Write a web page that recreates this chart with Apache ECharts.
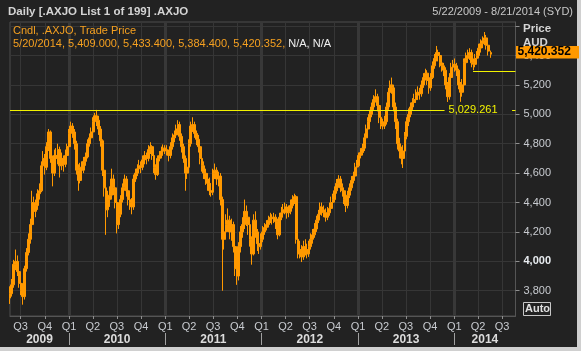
<!DOCTYPE html>
<html><head><meta charset="utf-8">
<script src="https://cdn.jsdelivr.net/npm/echarts@6/dist/echarts.min.js"></script>
<style>html,body{margin:0;padding:0;background:#222;} #c{width:581px;height:351px;}</style>
</head><body><div id="c"></div>
<script>
// Weekly candles [open, close, low, high], first week starting 2009-05-22
const candlesA = [
[3750,3780,3710,3830],[3780,3840,3760,3880],[3840,3980,3820,4010],[3980,4000,3940,4080],[4000,3930,3900,4040],
[3930,3850,3820,3960],[3850,3800,3770,3890],[3800,3760,3705,3830],[3760,3950,3740,3970],[3950,4060,3930,4090],
[4060,4150,4040,4190],[4150,4250,4120,4290],[4250,4400,4230,4480],[4400,4340,4290,4440],[4340,4380,4300,4420],
[4380,4460,4350,4490],[4460,4480,4420,4530],[4480,4650,4470,4680],[4650,4700,4610,4750],[4700,4640,4590,4730],
[4640,4780,4620,4810],[4780,4880,4750,4900],[4880,4700,4670,4890],[4700,4600,4510,4720],[4600,4720,4580,4760],
[4720,4700,4640,4770],[4700,4760,4660,4800],[4760,4650,4570,4780],[4650,4700,4620,4740],[4700,4660,4610,4720],
[4660,4720,4640,4760],[4720,4780,4700,4800]
];
const candlesB = [
[4780,4870,4760,4900],[4870,4920,4850,4950],[4920,4880,4840,4940],[4880,4800,4760,4900],[4800,4620,4590,4820],
[4620,4550,4480,4660],[4550,4640,4530,4670],[4640,4620,4580,4680],[4620,4680,4600,4710],[4680,4710,4650,4740],
[4710,4800,4700,4830],[4800,4840,4780,4870],[4840,4880,4820,4910],[4880,4950,4860,4980],[4950,4990,4930,5010],
[4990,4960,4920,5030],[4960,4900,4860,4990],[4900,4820,4780,4920],[4820,4620,4580,4830],[4620,4500,4440,4660],
[4500,4350,4180,4520],[4350,4420,4300,4480],[4420,4450,4370,4510],[4450,4560,4420,4630],[4560,4500,4450,4590],
[4500,4400,4360,4530],[4400,4250,4190,4420],[4250,4320,4220,4360],[4320,4420,4300,4450],[4420,4500,4400,4530],
[4500,4560,4480,4590],[4560,4480,4440,4580],[4480,4420,4380,4510],[4420,4400,4350,4450],[4400,4370,4320,4430],
[4370,4560,4350,4590],[4560,4600,4540,4630],[4600,4630,4580,4660],[4630,4650,4600,4690],[4650,4640,4600,4680],
[4640,4690,4620,4720],[4690,4720,4660,4750],[4720,4700,4660,4740],[4700,4760,4680,4790],[4760,4780,4730,4810],
[4780,4720,4690,4790],[4720,4640,4600,4730],[4640,4590,4555,4660],[4590,4700,4580,4720],[4700,4720,4680,4750],
[4720,4750,4700,4780],[4750,4770,4730,4795],[4770,4760,4730,4790],[4760,4750,4720,4790]
];
const candlesC = [
[4750,4720,4680,4760],[4720,4780,4700,4810],[4780,4840,4760,4870],[4840,4860,4810,4890],[4860,4900,4840,4930],
[4900,4930,4880,4960],[4930,4850,4820,4950],[4850,4780,4740,4870],[4780,4700,4670,4800],[4700,4600,4480,4720],
[4600,4640,4560,4680],[4640,4800,4620,4830],[4800,4920,4780,4950],[4920,4930,4880,4980],[4930,4870,4840,4950],
[4870,4830,4790,4890],[4830,4780,4740,4860],[4780,4700,4660,4800],[4700,4650,4610,4730],[4650,4600,4560,4680],
[4600,4560,4520,4630],[4560,4530,4480,4600],[4530,4480,4450,4570],[4480,4470,4440,4530],[4470,4600,4450,4630],
[4600,4620,4560,4665],[4620,4560,4520,4640],[4560,4580,4510,4610],[4580,4420,4380,4600],[4420,4150,3800,4440],
[4150,4200,4080,4280],[4200,4250,4150,4320],[4250,4280,4200,4360],[4280,4200,4150,4310],[4200,4250,4140,4290],
[4250,4100,4060,4270],[4100,3950,3900,4140],[3950,3900,3840,4000],[3900,4100,3870,4130],[4100,4200,4060,4240],
[4200,4250,4160,4300],[4250,4340,4220,4420],[4340,4300,4240,4380],[4300,4250,4180,4330],[4250,4150,4100,4270],
[4150,4050,3977,4170],[4050,4280,4040,4320],[4280,4200,4160,4340],[4200,4120,4070,4220],[4120,4100,4050,4170]
];
const candlesD = [
[4100,4150,4080,4190],[4150,4200,4130,4240],[4200,4230,4180,4260],[4230,4250,4210,4280],[4250,4280,4230,4310],
[4280,4300,4260,4330],[4300,4290,4250,4320],[4290,4300,4260,4330],[4300,4270,4220,4320],[4270,4180,4150,4290],
[4180,4300,4170,4330],[4300,4330,4280,4370],[4330,4350,4300,4390],[4350,4370,4320,4400],[4370,4330,4290,4390],
[4330,4340,4300,4380],[4340,4380,4320,4420],[4380,4420,4360,4450],[4420,4440,4390,4460],[4440,4150,4120,4450],
[4150,4050,4020,4180],[4050,4080,4020,4140],[4080,4030,3995,4110],[4030,4100,4010,4140],[4100,4080,4040,4150],
[4080,4050,4020,4120],[4050,4100,4030,4140],[4100,4150,4080,4190],[4150,4180,4120,4220],[4180,4220,4160,4260],
[4220,4280,4200,4310],[4280,4320,4260,4350],[4320,4370,4300,4400],[4370,4350,4310,4400],[4350,4330,4300,4380],
[4330,4300,4270,4360],[4300,4330,4280,4370],[4330,4360,4310,4400],[4360,4400,4340,4440],[4400,4420,4380,4460],
[4420,4480,4400,4510],[4480,4530,4460,4560],[4530,4560,4500,4586],[4560,4500,4470,4580],[4500,4480,4440,4530],
[4480,4420,4390,4500],[4420,4380,4335,4440],[4380,4450,4360,4480],[4450,4500,4430,4530],[4500,4550,4480,4580],
[4550,4580,4530,4610],[4580,4640,4560,4670],[4640,4650,4610,4690]
];
const candlesE = [
[4650,4720,4640,4740],[4720,4740,4700,4770],[4740,4770,4720,4800],[4770,4840,4750,4870],[4840,4900,4820,4930],
[4900,4950,4880,4980],[4950,5000,4930,5030],[5000,5050,4980,5080],[5050,5100,5030,5130],[5100,5120,5080,5170],
[5120,5060,5020,5140],[5060,4980,4940,5080],[4980,4930,4900,5000],[4930,4920,4897,4970],[4920,4950,4900,4990],
[4950,5050,4930,5080],[5050,5150,5030,5180],[5150,5200,5130,5230],[5200,5180,5140,5250],[5180,5050,5020,5190],
[5050,4950,4900,5080],[4950,4800,4760,4970],[4800,4750,4700,4840],[4750,4700,4660,4780],[4700,4750,4635,4790],
[4750,4850,4730,4880],[4850,4950,4830,4980],[4950,5000,4920,5040],[5000,5050,4980,5080],[5050,5080,5030,5110],
[5080,5100,5050,5140],[5100,5130,5080,5170],[5130,5150,5100,5190],[5150,5140,5100,5180],[5140,5200,5120,5230],
[5200,5250,5180,5280],[5250,5280,5230,5310],[5280,5230,5200,5300],[5230,5180,5140,5250],[5180,5250,5160,5280],
[5250,5330,5240,5360],[5330,5380,5310,5410],[5380,5420,5360,5465],[5420,5400,5360,5440],[5400,5350,5320,5420],
[5350,5330,5290,5380],[5330,5300,5260,5350],[5300,5200,5170,5320],[5200,5120,5084,5220]
];
const candlesF = [
[5120,5250,5100,5280],[5250,5320,5230,5350],[5320,5340,5290,5370],[5340,5330,5290,5380],[5330,5300,5260,5350],
[5300,5200,5170,5310],[5200,5150,5085,5220],[5150,5200,5120,5240],[5200,5350,5180,5380],[5350,5380,5330,5420],
[5380,5400,5350,5440],[5400,5420,5370,5450],[5420,5350,5320,5440],[5350,5340,5300,5380],[5340,5380,5320,5410],
[5380,5400,5350,5430],[5400,5450,5380,5480],[5450,5480,5420,5510],[5480,5500,5450,5530],[5500,5520,5470,5560],
[5520,5470,5440,5540],[5470,5430,5400,5500],[5409,5420.352,5384.4,5433.4]
];
const yTicks = [3800,4000,4200,4400,4600,4800,5000,5200,5400];
const yGridTicks = [3800,4000,4200,4400,4600,4800,5000,5200,5400,5600];
const quarterTicks = ['2009-07-01','2009-10-01','2010-01-01','2010-04-01','2010-07-01','2010-10-01','2011-01-01','2011-04-01','2011-07-01','2011-10-01','2012-01-01','2012-04-01','2012-07-01','2012-10-01','2013-01-01','2013-04-01','2013-07-01','2013-10-01','2014-01-01','2014-04-01','2014-07-01'];
const yearTicks = ['2010-01-01','2011-01-01','2012-01-01','2013-01-01','2014-01-01'];
const yearLabelPos = ['2009-09-11','2010-07-02','2011-07-02','2012-07-02','2013-07-02','2014-04-27'];
const refLevel = 5029.261;
const lastLevel = 5292;
const lastPrice = '5,420.352';

function d(s){const p=s.split('-').map(Number);return Date.UTC(p[0],p[1]-1,p[2]);}
const all = [].concat(candlesA,candlesB,candlesC,candlesD,candlesE,candlesF);
const t0 = d('2009-05-22');
const data = all.map((c,i)=>{
  const t = (i===all.length-1) ? d('2014-05-20') : t0 + i*7*86400000;
  return [t, c[0], c[1], c[2], c[3]];
});
const xMin = d('2009-05-22'), xMax = d('2014-08-21');
const ORANGE = '#ff9900', YEL = '#f2f200';
const FONT = '"Liberation Sans", Arial, sans-serif';
const refLabel = {show:true, position:'end', distance:4, formatter:'5,029.261', color:YEL, fontSize:11, fontFamily:FONT};

const chart = echarts.init(document.getElementById('c'), null, {renderer:'canvas'});
chart.setOption({
  animation:false,
  backgroundColor:'#222222',
  grid:{left:10, right:65.5, top:22, bottom:35, show:true, borderColor:'#4c4c4c', borderWidth:1, backgroundColor:'#222222'},
  xAxis:[{
    type:'value', min:xMin, max:xMax, position:'bottom',
    axisLine:{show:true, lineStyle:{color:'#555555'}},
    axisTick:{show:true, customValues:quarterTicks.map(d), length:3, lineStyle:{color:'#909090'}},
    axisLabel:{show:true, customValues:quarterTicks.map(d), margin:5, color:'#c8cbd0', fontSize:11, fontFamily:FONT,
      formatter:(v)=>'Q'+(Math.floor(new Date(v).getUTCMonth()/3)+1)},
    splitLine:{show:true, lineStyle:{color:'#363636', width:1}}
  },{
    type:'value', min:xMin, max:xMax, position:'bottom', offset:17,
    axisLine:{show:false},
    axisTick:{show:true, customValues:yearTicks.map(d), length:12, lineStyle:{color:'#a0a0a0'}},
    axisLabel:{show:true, customValues:yearLabelPos.map(d), margin:1, color:'#dcdcdc', fontSize:12, fontWeight:'bold', fontFamily:FONT,
      formatter:(v)=>String(new Date(v).getUTCFullYear())},
    splitLine:{show:false}
  },{
    type:'value', min:xMin, max:xMax, position:'top',
    axisLine:{show:false}, axisLabel:{show:false},
    axisTick:{show:false, customValues:yearTicks.map(d)},
    splitLine:{show:true, lineStyle:{color:'#383838', width:3}}
  }],
  yAxis:{
    type:'value', position:'right', min:3628, max:5628,
    axisLine:{show:true, lineStyle:{color:'#555555'}},
    axisTick:{show:true, customValues:yGridTicks, length:4, lineStyle:{color:'#909090'}},
    axisLabel:{show:true, customValues:yTicks, margin:8, color:'#c8cbd0', fontSize:11, fontFamily:FONT,
      formatter:(v)=> v===4000 ? '{b|4,000}' : v.toLocaleString('en-US'),
      rich:{b:{fontWeight:'bold', color:'#e8ecf0', fontSize:11, fontFamily:FONT}}},
    splitLine:{show:true, lineStyle:{color:'#363636'}}
  },
  series:[{
    type:'candlestick', xAxisIndex:0, data:data, barWidth:2.4, z:3,
    itemStyle:{color:ORANGE, color0:ORANGE, borderColor:ORANGE, borderColor0:ORANGE, borderWidth:1},
    markLine:{silent:true, symbol:'none', animation:false, label:{show:false},
      lineStyle:{color:YEL, width:1, type:'solid'},
      data:[
        [{coord:[xMin, refLevel], label:refLabel}, {coord:[d('2013-11-25'), refLevel], label:refLabel}],
        [{coord:[d('2014-08-08'), refLevel]}, {coord:[xMax, refLevel]}],
        [{coord:[d('2014-03-13'), lastLevel]}, {coord:[xMax, lastLevel]}]
      ]}
  }],
  graphic:[
    {type:'text', left:8, top:6, style:{text:'Daily [.AXJO List 1 of 199] .AXJO', fill:'#d4d4d4', font:'bold 11.5px '+FONT}},
    {type:'text', right:8, top:6, style:{text:'5/22/2009 - 8/21/2014 (SYD)', fill:'#c8c8c8', font:'11px '+FONT}},
    {type:'text', left:13, top:25, z:100, style:{text:'Cndl, .AXJO, Trade Price', fill:'#f5a020', font:'11px '+FONT}},
    {type:'text', left:13, top:38, z:100, style:{text:'{o|5/20/2014, 5,409.000, 5,433.400, 5,384.400, 5,420.352, }{w|N/A, N/A}',
      rich:{o:{fill:'#f5a020', font:'11px '+FONT}, w:{fill:'#f0f0f0', font:'11px '+FONT}}}},
    {type:'text', left:523, top:23, style:{text:'Price', fill:'#d4d4d4', font:'bold 11.5px '+FONT}},
    {type:'text', left:523, top:37, style:{text:'AUD', fill:'#d4d4d4', font:'bold 11.5px '+FONT}},
    {type:'rect', shape:{x:516, y:46, width:63, height:12.5}, style:{fill:ORANGE}, z:100},
    {type:'text', left:517.5, top:46, z:101, style:{text:lastPrice, fill:'#000000', font:'bold 12px '+FONT}},
    {type:'rect', shape:{x:523.5, y:302.5, width:27, height:13}, style:{fill:'none', stroke:'#c8c8c8', lineWidth:1}},
    {type:'text', left:525, top:303, style:{text:'Auto', fill:'#e0e0e0', font:'bold 11px '+FONT}},
    {type:'rect', shape:{x:577, y:0, width:4, height:351}, style:{fill:'#d0d0d0'}, z:50},
    {type:'rect', shape:{x:0, y:347, width:581, height:4}, style:{fill:'#d0d0d0'}, z:50}
  ]
});
</script>
</body></html>
